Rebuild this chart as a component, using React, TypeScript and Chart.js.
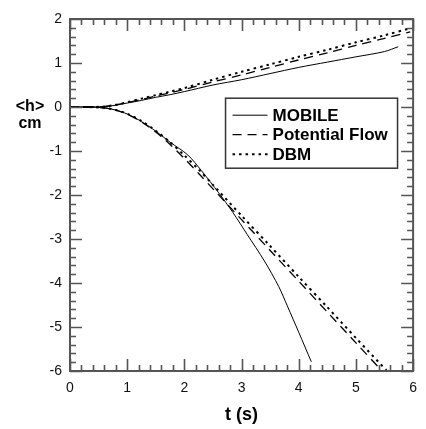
import React, { useEffect, useRef } from "react";
import { Chart, registerables } from "chart.js";

Chart.register(...registerables);

// ---------- data ----------
const tUpperMobile = [0, 0.3, 0.6, 0.8, 1, 1.25, 1.5, 1.75, 2, 2.5, 3, 3.5, 4, 4.5, 5, 5.5, 5.74];
const hUpperMobile = [0, 0, 0.01, 0.04, 0.09, 0.15, 0.22, 0.28, 0.35, 0.5, 0.62, 0.76, 0.9, 1.02, 1.14, 1.26, 1.37];

const tUpperPotential = [0, 0.3, 0.6, 0.8, 1, 1.25, 1.5, 1.75, 2, 2.5, 3, 3.5, 4, 4.5, 5, 5.5, 5.95];
const hUpperPotential = [0, 0, 0.01, 0.05, 0.1, 0.17, 0.25, 0.32, 0.4, 0.57, 0.73, 0.9, 1.07, 1.23, 1.4, 1.56, 1.71];

const tUpperDBM = [0, 0.3, 0.6, 0.8, 1, 1.25, 1.5, 1.75, 2, 2.5, 3, 3.5, 4, 4.5, 5, 5.5, 5.95];
const hUpperDBM = [0, 0, 0.01, 0.05, 0.11, 0.19, 0.27, 0.35, 0.43, 0.62, 0.8, 0.97, 1.14, 1.3, 1.47, 1.63, 1.79];

const tLowerMobile = [0, 0.3, 0.6, 0.8, 1, 1.25, 1.5, 1.75, 2.06, 2.3, 2.6, 2.85, 3.1, 3.4, 3.65, 3.8, 4.0, 4.22];
const hLowerMobile = [0, 0, -0.02, -0.07, -0.16, -0.33, -0.55, -0.8, -1.09, -1.45, -1.95, -2.4, -2.9, -3.5, -4.08, -4.52, -5.12, -5.79];

const tLowerPotential = [0, 0.3, 0.6, 0.8, 1, 1.25, 1.5, 1.75, 2, 2.25, 2.5, 3, 3.5, 4, 4.5, 5, 5.47];
const hLowerPotential = [0, 0, -0.02, -0.07, -0.16, -0.34, -0.57, -0.85, -1.17, -1.51, -1.86, -2.56, -3.26, -3.96, -4.66, -5.36, -6.02];

const tLowerDBM = [0, 0.3, 0.6, 0.8, 1, 1.25, 1.5, 1.75, 2, 2.25, 2.5, 3, 3.5, 4, 4.5, 5, 5.58];
const hLowerDBM = [0, 0, -0.02, -0.07, -0.15, -0.32, -0.54, -0.8, -1.1, -1.42, -1.77, -2.47, -3.16, -3.86, -4.55, -5.25, -6.05];

const seriesNames = ["MOBILE", "Potential Flow", "DBM"];
const xTickValues = [0, 1, 2, 3, 4, 5, 6];
const yTickValues = [-6, -5, -4, -3, -2, -1, 0, 1, 2];
const xTitle = "t (s)";
const yTitleLines = ["<h>", "cm"];

// ---------- styles ----------
const FONT = "'Liberation Sans', Arial, Helvetica, sans-serif";
const styles = [
  { borderColor: "#000", borderWidth: 1, borderDash: [] as number[] },
  { borderColor: "#000", borderWidth: 1.3, borderDash: [9, 6] },
  { borderColor: "#000", borderWidth: 2, borderDash: [2.5, 4] },
];

const pts = (t: number[], h: number[]) => t.map((x, i) => ({ x, y: h[i] }));

const framePlugin = {
  id: "frameTicks",
  afterDatasetsDraw(chart: any) {
    const { ctx, chartArea: a, scales } = chart;
    const xs = scales.x;
    const ys = scales.y;
    ctx.save();
    ctx.strokeStyle = "#555";
    ctx.lineWidth = 2;
    ctx.strokeRect(a.left, a.top, a.right - a.left, a.bottom - a.top);
    ctx.lineWidth = 1.6;
    ctx.beginPath();
    for (let i = 0; i <= 30; i++) {
      const v = i * 0.2;
      const major = i % 5 === 0;
      const len = major ? 12 : 6;
      const px = Math.round(xs.getPixelForValue(v)) + 0.5;
      ctx.moveTo(px, a.bottom);
      ctx.lineTo(px, a.bottom - len);
      ctx.moveTo(px, a.top);
      ctx.lineTo(px, a.top + len);
    }
    for (let i = 0; i <= 40; i++) {
      const v = -6 + i * 0.2;
      const major = i % 5 === 0;
      const len = major ? 12 : 6;
      const py = Math.round(ys.getPixelForValue(v)) + 0.5;
      ctx.moveTo(a.left, py);
      ctx.lineTo(a.left + len, py);
      ctx.moveTo(a.right, py);
      ctx.lineTo(a.right - len, py);
    }
    ctx.stroke();

    // y title (horizontal)
    ctx.fillStyle = "#000";
    ctx.font = `bold 16px ${FONT}`;
    ctx.textAlign = "center";
    ctx.textBaseline = "middle";
    const y0 = ys.getPixelForValue(0);
    ctx.fillText(yTitleLines[0], 30, y0);
    ctx.fillText(yTitleLines[1], 30, y0 + 17);

    // legend
    const bx = xs.getPixelForValue(2.72);
    const by = ys.getPixelForValue(0.2);
    const bw = 172;
    const bh = 70;
    ctx.fillStyle = "#fff";
    ctx.fillRect(bx, by, bw, bh);
    ctx.strokeStyle = "#333";
    ctx.lineWidth = 1.5;
    ctx.strokeRect(bx, by, bw, bh);
    ctx.font = `bold 17px ${FONT}`;
    ctx.textAlign = "left";
    ctx.textBaseline = "middle";
    seriesNames.forEach((name, i) => {
      const ly = by + 17 + i * 19.5;
      const st = styles[i];
      ctx.strokeStyle = st.borderColor;
      ctx.lineWidth = st.borderWidth;
      ctx.setLineDash(st.borderDash);
      ctx.beginPath();
      ctx.moveTo(bx + 7, ly);
      ctx.lineTo(bx + 42, ly);
      ctx.stroke();
      ctx.setLineDash([]);
      ctx.fillStyle = "#000";
      ctx.fillText(name, bx + 47, ly + 1);
    });
    ctx.restore();
  },
};

export default function App() {
  const ref = useRef<HTMLCanvasElement | null>(null);
  useEffect(() => {
    document.body.style.margin = "0";
    const canvas = ref.current;
    if (!canvas) return;
    const mk = (label: string, t: number[], h: number[], si: number) => ({
      label,
      data: pts(t, h),
      borderColor: styles[si].borderColor,
      borderWidth: styles[si].borderWidth,
      borderDash: styles[si].borderDash,
      pointRadius: 0,
      fill: false,
      tension: 0.3,
    });
    const chart = new Chart(canvas, {
      type: "line",
      data: {
        datasets: [
          mk(seriesNames[0], tUpperMobile, hUpperMobile, 0),
          mk(seriesNames[1], tUpperPotential, hUpperPotential, 1),
          mk(seriesNames[2], tUpperDBM, hUpperDBM, 2),
          mk(seriesNames[0], tLowerMobile, hLowerMobile, 0),
          mk(seriesNames[1], tLowerPotential, hLowerPotential, 1),
          mk(seriesNames[2], tLowerDBM, hLowerDBM, 2),
        ],
      },
      options: {
        animation: false,
        responsive: false,
        devicePixelRatio: 1,
        layout: { padding: { top: 19, right: 6, left: 0, bottom: 0 } },
        plugins: { legend: { display: false }, tooltip: { enabled: false } },
        scales: {
          x: {
            type: "linear",
            min: 0,
            max: 6,
            grid: { display: false, drawTicks: false, tickLength: 0 },
            border: { display: false },
            afterBuildTicks: (s: any) => {
              s.ticks = xTickValues.map((v) => ({ value: v }));
            },
            afterFit: (s: any) => {
              s.height = 58;
            },
            ticks: {
              padding: 9,
              color: "#111",
              font: { family: FONT, size: 14 },
            },
            title: {
              display: true,
              text: xTitle,
              color: "#000",
              font: { family: FONT, size: 18, weight: "bold" },
              padding: { top: 2, bottom: 3 },
            },
          },
          y: {
            type: "linear",
            min: -6,
            max: 2,
            grid: { display: false, drawTicks: false, tickLength: 0 },
            border: { display: false },
            afterBuildTicks: (s: any) => {
              s.ticks = yTickValues.map((v) => ({ value: v }));
            },
            afterFit: (s: any) => {
              s.width = 70;
            },
            ticks: {
              padding: 8,
              color: "#111",
              font: { family: FONT, size: 14 },
            },
          },
        },
      },
      plugins: [framePlugin],
    });
    return () => chart.destroy();
  }, []);
  return (
    <div style={{ position: "fixed", left: 0, top: 0, width: 426, height: 429, background: "#fff" }}>
      <canvas ref={ref} width={426} height={429} />
    </div>
  );
}
